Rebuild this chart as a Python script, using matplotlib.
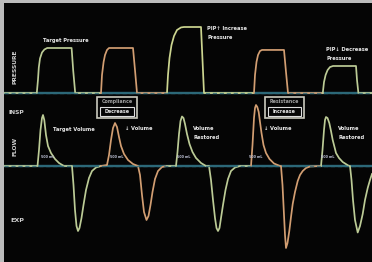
import matplotlib
matplotlib.use("Agg")
import matplotlib.pyplot as plt
from matplotlib.patches import Rectangle

# ---------------- data (time in s, pressure in cmH2O, flow in L/min) ----------------
p1_t = [0, 0.82, 0.85, 0.87, 0.9, 0.95, 1.01, 1.08, 1.69, 1.73, 1.78, 2.425]
p1_v = [5, 5, 14, 22, 28, 32, 34, 35, 35, 20, 5, 5]
p2_t = [2.425, 2.45, 2.49, 2.525, 2.575, 2.625, 3.225, 3.275, 3.325, 4.075]
p2_v = [5, 17, 25.7, 30.3, 33.7, 35, 35, 20.3, 5, 5]
p3_t = [4.075, 4.1, 4.1375, 4.1875, 4.25, 4.325, 4.425, 4.5, 4.925, 4.9625, 5.0, 6.25]
p3_v = [5, 17, 28.3, 37, 43, 47, 48.7, 49, 49, 27, 5, 5]
p4_t = [6.25, 6.275, 6.3125, 6.35, 6.4, 6.45, 7.0, 7.05, 7.1, 7.97]
p4_v = [5, 17, 25.7, 30.3, 33, 33.7, 33.7, 19, 5, 5]
p5_t = [7.97, 8.0, 8.04, 8.09, 8.15, 8.225, 8.8, 8.825, 8.86, 9.2]
p5_v = [5, 12.3, 17, 20.3, 22.3, 23, 23, 13.7, 5, 5]

f1_t = [0, 0.8375, 0.875, 0.9125, 0.95, 0.975, 1.0075, 1.05, 1.1, 1.175, 1.275, 1.375, 1.5, 1.7,
        1.7375, 1.775, 1.8125, 1.85, 1.8875, 1.9375, 1.9875, 2.05, 2.125, 2.2, 2.3, 2.425]
f1_v = [0, 0, 16, 36, 48, 51, 46, 31, 20, 13, 7, 3, 0, 0,
        -19, -44, -60, -65, -62, -52, -39, -24, -12, -5, -1.5, 0]
f2_t = [2.425, 2.575, 2.625, 2.675, 2.725, 2.775, 2.825, 2.875, 2.925, 3.0, 3.1, 3.225, 3.35,
        3.4, 3.45, 3.5, 3.5625, 3.6125, 3.6625, 3.7125, 3.775, 3.85, 3.95, 4.075]
f2_v = [0, 1, 11, 26, 38, 43, 39, 29, 20, 12, 6, 2, 0,
        -9, -29, -46, -54, -50, -39, -26, -13, -5, -1, 0]
f3_t = [4.075, 4.3, 4.3375, 4.375, 4.4125, 4.45, 4.4875, 4.525, 4.575, 4.6375, 4.7125, 4.8, 4.925,
        5.05, 5.125, 5.175, 5.225, 5.275, 5.3125, 5.35, 5.3875, 5.425, 5.475, 5.5375, 5.6, 5.675,
        5.775, 5.9, 6.175]
f3_v = [0, 0, 14, 32, 45, 49.5, 48, 42, 32, 22, 14, 8, 3,
        0, 0, -14, -34, -52, -62, -65, -62, -52, -39, -24, -13, -5,
        -1.5, 0, 0]
f4_t = [6.175, 6.2125, 6.25, 6.275, 6.3, 6.3325, 6.3675, 6.4, 6.4375, 6.4875, 6.55, 6.6375, 6.75,
        6.9, 6.925, 6.9625, 7.0, 7.025, 7.05, 7.0875, 7.1325, 7.175, 7.2175, 7.275, 7.3425, 7.4,
        7.4675, 7.55, 7.65, 7.925]
f4_v = [0, 21, 48, 58, 61, 59, 54, 44, 33, 21, 13, 7, 2.5,
        0, 0, -19, -49, -69, -82, -77, -65, -51, -38, -26, -15, -9,
        -5, -2, -0.5, 0]
f5_t = [7.925, 7.9625, 8.0, 8.025, 8.05, 8.0875, 8.1325, 8.175, 8.2175, 8.2625, 8.3, 8.375, 8.4675,
        8.625, 8.65, 8.6875, 8.725, 8.775, 8.8425, 8.9, 8.9675, 9.025, 9.0925, 9.15, 9.2]
f5_v = [0, 16, 36, 46, 49, 48, 43, 35, 26, 19, 13, 8, 4,
        0, 0, -14, -34, -54, -66.5, -60, -48, -34, -22, -14, -8]

vol_label_t = [1.1, 2.825, 4.5, 6.3, 8.1]
vol_label = "500 mL"

GREEN = "#bccb96"
YELLOW = "#ccd590"
ORANGE = "#d29e72"
TEAL = "#2c6878"
BG = "#050505"

fig = plt.figure(figsize=(3.72, 2.62), dpi=100)
fig.patch.set_facecolor("#bcbcbc")
rect = [4 / 372, 0, 368 / 372, 259 / 262]
axp = fig.add_axes(rect)
axp.set_facecolor(BG)
axf = fig.add_axes(rect)
axf.patch.set_alpha(0)
for ax in (axp, axf):
    ax.set_xlim(0, 9.2)
    ax.set_xticks([])
    ax.set_yticks([])
    for s in ax.spines.values():
        s.set_visible(False)
axp.set_ylim(-107.67, 65)
axf.set_ylim(-96, 163)

lw = 1.25
# baselines
axp.plot([0, 9.2], [5, 5], color=TEAL, lw=1.7, zorder=1)
axf.plot([0, 9.2], [0, 0], color=TEAL, lw=1.7, zorder=1)

for t, v, c in [(p1_t, p1_v, GREEN), (p2_t, p2_v, ORANGE), (p3_t, p3_v, YELLOW),
                (p4_t, p4_v, ORANGE), (p5_t, p5_v, GREEN)]:
    axp.plot(t, v, color=c, lw=lw, zorder=2, solid_joinstyle="round")
for t, v, c in [(f1_t, f1_v, GREEN), (f2_t, f2_v, ORANGE), (f3_t, f3_v, GREEN),
                (f4_t, f4_v, ORANGE), (f5_t, f5_v, GREEN)]:
    axf.plot(t, v, color=c, lw=lw, zorder=2, solid_joinstyle="round")

axp.plot([0, 9.2], [5, 5], color=TEAL, lw=1.0, dashes=(3, 2), zorder=3, alpha=0.8)
axf.plot([0, 9.2], [0, 0], color=TEAL, lw=1.0, dashes=(3, 2), zorder=3, alpha=0.8)

tk = dict(color="#e8e8e8", fontsize=3.7, fontweight="bold", va="center", ha="left",
          linespacing=1.9)
axp.text(0.975, 39.9, "Target Pressure", **tk)
axp.text(5.075, 45, "PIP\u2191 Increase\nPressure", **tk)
axp.text(8.05, 30.9, "PIP\u2193 Decrease\nPressure", **tk)

axf.text(1.225, 37, "Target Volume", **tk)
axf.text(3.025, 37, "\u2193 Volume", **tk)
axf.text(4.725, 33, "Volume\nRestored", **tk)
axf.text(6.5, 37, "\u2193 Volume", **tk)
axf.text(8.35, 33, "Volume\nRestored", **tk)

for t in vol_label_t:
    axf.text(t, 8.5, vol_label, color="#c0c4d8", fontsize=2.4, ha="center", va="center",
             fontweight="bold")

# boxes
for (t0, t1, top_txt, bot_txt) in [(2.325, 3.3175, "Compliance", "Decrease"),
                                    (6.5125, 7.5, "Resistance", "Increase")]:
    axf.add_patch(Rectangle((t0, 48), t1 - t0, 21.5, facecolor=BG, edgecolor="#cacabe",
                            lw=1.2, zorder=4))
    axf.add_patch(Rectangle((t0 + 0.075, 50), t1 - t0 - 0.15, 9.5, facecolor=BG,
                            edgecolor="#dedede", lw=0.8, zorder=5))
    tc = (t0 + t1) / 2
    axf.text(tc, 64.5, top_txt, color="#a0a0a0", fontsize=3.4, fontweight="bold",
             ha="center", va="center", zorder=6)
    axf.text(tc, 54.8, bot_txt, color="#e8e8e8", fontsize=3.4, fontweight="bold",
             ha="center", va="center", zorder=6)

lk = dict(color="#cfcfcf", fontweight="bold", ha="center", va="center")
fig.text(15 / 372, 1 - 66.5 / 262, "PRESSURE", rotation=90, fontsize=4.3, **lk)
fig.text(16 / 372, 1 - 113 / 262, "INSP", fontsize=4.3, **lk)
fig.text(15 / 372, 1 - 146 / 262, "FLOW", rotation=90, fontsize=4.3, **lk)
fig.text(17 / 372, 1 - 221 / 262, "EXP", fontsize=4.6, **lk)

fig.savefig("out.png", dpi=100, facecolor=fig.get_facecolor())
